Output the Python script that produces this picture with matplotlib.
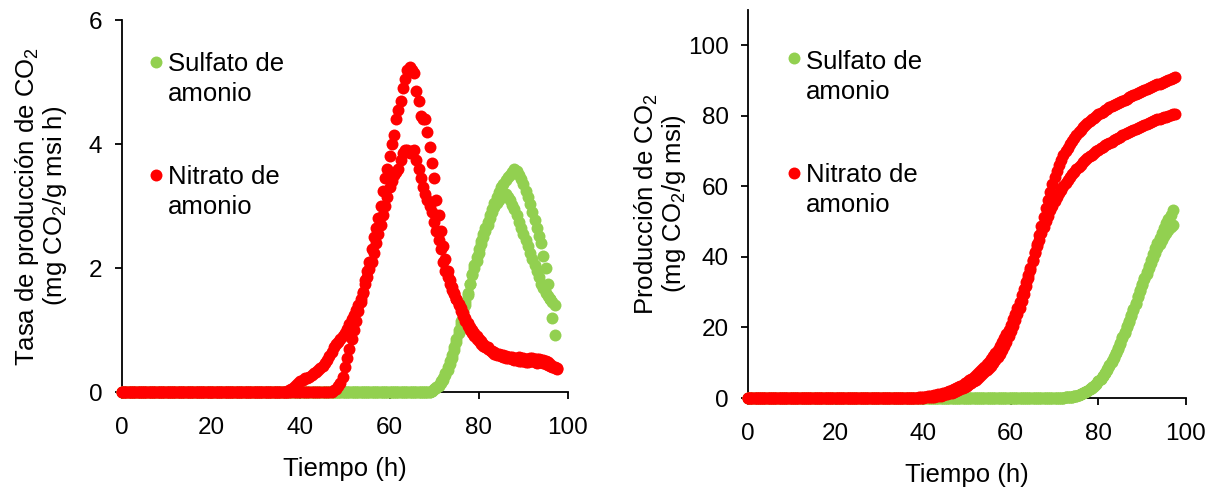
import numpy as np
import matplotlib.pyplot as plt

plt.rcParams['font.family'] = ['Liberation Sans', 'DejaVu Sans']
plt.rcParams['mathtext.fontset'] = 'custom'
plt.rcParams['mathtext.rm'] = 'Liberation Sans'
plt.rcParams['mathtext.it'] = 'Liberation Sans:italic'

# muestreo cada 0.5 h
tiempo = np.arange(0, 98, 0.5)

verde = '#92D050'
rojo = '#FF0000'

# tasa de produccion de CO2 (mg CO2/g msi h)
tasa_sulfato_1 = [0.0] * 139 + [
    0.02, 0.05, 0.07, 0.1, 0.15, 0.2, 0.27, 0.35, 0.45, 0.55,
    0.67, 0.8, 0.95, 1.1, 1.25, 1.4, 1.57, 1.75, 1.9, 2.05,
    2.18, 2.3, 2.43, 2.55, 2.65, 2.75, 2.85, 2.95, 3.05, 3.15,
    3.22, 3.3, 3.36, 3.42, 3.46, 3.5, 3.55, 3.6, 3.57, 3.5,
    3.43, 3.35, 3.25, 3.15, 3.03, 2.9, 2.78, 2.65, 2.52, 2.4,
    2.2, 2.0, 1.75, 1.5, 1.2, 0.92]
tasa_sulfato_2 = [0.0] * 139 + [
    0.02, 0.05, 0.08, 0.12, 0.17, 0.23, 0.3, 0.4, 0.5, 0.6,
    0.72, 0.85, 1.0, 1.15, 1.3, 1.45, 1.6, 1.75, 1.88, 2.0,
    2.12, 2.25, 2.38, 2.5, 2.6, 2.7, 2.8, 2.9, 2.98, 3.05,
    3.1, 3.15, 3.18, 3.2, 3.15, 3.1, 3.02, 2.95, 2.85, 2.75,
    2.65, 2.55, 2.45, 2.35, 2.25, 2.15, 2.05, 1.95, 1.85, 1.75,
    1.68, 1.6, 1.55, 1.5, 1.45, 1.4]
tasa_nitrato_1 = [0.0] * 95 + [
    0.03, 0.05, 0.1, 0.15, 0.25, 0.4, 0.55, 0.7, 0.85, 1.0,
    1.15, 1.3, 1.45, 1.6, 1.8, 1.95, 2.1, 2.3, 2.5, 2.65,
    2.8, 3.0, 3.25, 3.45, 3.6, 3.8, 4.0, 4.15, 4.4, 4.55,
    4.7, 4.9, 5.05, 5.2, 5.25, 5.2, 5.15, 4.85, 4.7, 4.45,
    4.4, 4.4, 4.2, 3.95, 3.7, 3.45, 3.1, 2.85, 2.6, 2.35,
    2.15, 1.95, 1.8, 1.7, 1.6, 1.5, 1.4, 1.3, 1.22, 1.15,
    1.07, 1.0, 0.95, 0.9, 0.86, 0.82, 0.78, 0.75, 0.72, 0.7,
    0.68, 0.66, 0.64, 0.62, 0.61, 0.6, 0.59, 0.58, 0.57, 0.56,
    0.56, 0.55, 0.55, 0.56, 0.55, 0.55, 0.54, 0.54, 0.55, 0.55,
    0.54, 0.53, 0.53, 0.52, 0.52, 0.5, 0.48, 0.45, 0.42, 0.38,
    0.37]
tasa_nitrato_2 = [0.0] * 75 + [
    0.03, 0.05, 0.08, 0.12, 0.15, 0.18, 0.2, 0.22, 0.23, 0.25,
    0.27, 0.3, 0.33, 0.35, 0.38, 0.42, 0.47, 0.52, 0.58, 0.65,
    0.72, 0.78, 0.8, 0.85, 0.9, 0.95, 1.02, 1.1, 1.18, 1.25,
    1.32, 1.4, 1.5, 1.62, 1.75, 1.85, 1.98, 2.1, 2.25, 2.4,
    2.55, 2.7, 2.85, 3.0, 3.15, 3.3, 3.4, 3.5, 3.55, 3.6,
    3.75, 3.85, 3.9, 3.9, 3.85, 3.88, 3.9, 3.75, 3.6, 3.45,
    3.3, 3.2, 3.1, 3.0, 2.9, 2.75, 2.6, 2.45, 2.3, 2.1,
    1.95, 1.85, 1.75, 1.65, 1.58, 1.5, 1.42, 1.35, 1.28, 1.2,
    1.12, 1.05, 1.0, 0.95, 0.9, 0.85, 0.82, 0.78, 0.75, 0.72,
    0.68, 0.65, 0.62, 0.6, 0.59, 0.58, 0.56, 0.55, 0.55, 0.55,
    0.53, 0.52, 0.51, 0.5, 0.5, 0.5, 0.49, 0.48, 0.5, 0.5,
    0.48, 0.47, 0.48, 0.48, 0.47, 0.45, 0.44, 0.42, 0.41, 0.4,
    0.39]

# produccion acumulada de CO2 (mg CO2/g msi)
prod_sulfato_1 = [0.0] * 144 + [
    0.1, 0.15, 0.2, 0.3, 0.4, 0.55, 0.7, 0.9, 1.1, 1.4,
    1.7, 2.1, 2.5, 3.0, 3.5, 4.1, 4.8, 5.5, 6.3, 7.2,
    8.2, 9.3, 10.4, 11.6, 12.9, 14.3, 15.7, 17.2, 18.7, 20.3,
    21.9, 23.6, 25.3, 27.0, 28.8, 30.5, 32.3, 34.0, 35.8, 37.5,
    39.2, 40.8, 42.4, 43.9, 45.4, 46.8, 48.2, 49.5, 50.8, 52.0,
    53.2]
prod_sulfato_2 = [0.0] * 144 + [
    0.1, 0.15, 0.2, 0.3, 0.4, 0.55, 0.7, 0.9, 1.1, 1.4,
    1.7, 2.1, 2.5, 2.95, 3.45, 4.05, 4.7, 5.4, 6.2, 7.1,
    8.0, 9.1, 10.2, 11.4, 12.7, 14.0, 15.4, 16.9, 18.4, 20.0,
    21.6, 23.3, 25.0, 26.7, 28.5, 30.2, 32.0, 33.6, 35.2, 36.8,
    38.3, 39.8, 41.1, 42.4, 43.6, 44.7, 45.8, 46.7, 47.6, 48.4,
    49.1]
prod_nitrato_1 = [0.0] * 80 + [
    0.1, 0.15, 0.2, 0.25, 0.3, 0.4, 0.5, 0.6, 0.7, 0.85,
    1.0, 1.15, 1.3, 1.5, 1.7, 1.95, 2.2, 2.5, 2.8, 3.15,
    3.5, 3.9, 4.3, 4.75, 5.2, 5.7, 6.2, 6.75, 7.3, 7.9,
    8.5, 9.2, 9.9, 10.75, 11.6, 12.55, 13.5, 14.7, 16.0, 17.5,
    19.0, 20.5, 22.0, 23.7, 25.5, 27.5, 29.5, 31.7, 34.0, 36.4,
    38.8, 41.3, 43.8, 46.3, 48.8, 51.3, 53.8, 56.2, 58.5, 60.6,
    62.6, 64.4, 66.0, 67.5, 68.8, 69.9, 71.0, 72.0, 72.9, 73.7,
    74.5, 75.3, 76.0, 76.7, 77.3, 77.9, 78.5, 79.0, 79.5, 80.0,
    80.4, 80.8, 81.2, 81.6, 82.0, 82.4, 82.7, 83.1, 83.4, 83.7,
    84.0, 84.3, 84.6, 84.9, 85.2, 85.5, 85.8, 86.1, 86.4, 86.7,
    87.0, 87.3, 87.5, 87.8, 88.1, 88.4, 88.6, 88.9, 89.1, 89.4,
    89.7, 90.0, 90.2, 90.5, 90.7, 90.9]
prod_nitrato_2 = [0.0] * 76 + [
    0.05, 0.1, 0.15, 0.22, 0.3, 0.37, 0.45, 0.55, 0.65, 0.77,
    0.9, 1.05, 1.2, 1.37, 1.55, 1.77, 2.0, 2.25, 2.5, 2.8,
    3.1, 3.45, 3.8, 4.2, 4.6, 5.05, 5.5, 6.0, 6.5, 7.05,
    7.6, 8.25, 8.9, 9.6, 10.3, 11.1, 11.9, 12.8, 13.7, 14.7,
    15.8, 16.9, 18.1, 19.4, 20.7, 22.3, 23.9, 25.6, 27.3, 29.1,
    31.0, 33.0, 35.0, 37.0, 39.0, 41.0, 43.0, 44.9, 46.8, 48.5,
    50.2, 51.7, 53.2, 54.5, 55.8, 57.0, 58.1, 59.1, 60.1, 61.0,
    61.9, 62.7, 63.5, 64.2, 64.9, 65.6, 66.2, 66.8, 67.4, 68.0,
    68.5, 69.0, 69.5, 70.0, 70.4, 70.8, 71.2, 71.6, 72.0, 72.4,
    72.7, 73.1, 73.4, 73.8, 74.1, 74.5, 74.8, 75.1, 75.4, 75.7,
    76.0, 76.3, 76.6, 76.9, 77.2, 77.5, 77.7, 78.0, 78.2, 78.5,
    78.7, 79.0, 79.2, 79.4, 79.6, 79.8, 80.0, 80.2, 80.4, 80.5]

etiquetas = ['Sulfato de\namonio', 'Nitrato de\namonio']
colores = [verde, rojo]


def panel(ax, sulfato, nitrato, ymax, ystep, ylabel, ypad, leyenda):
    """Dibuja un panel con las dos repeticiones de cada tratamiento."""
    for serie in sulfato:
        ax.plot(tiempo[:len(serie)], serie, 'o', color=verde, ms=8.6,
                mec='none', clip_on=False, zorder=3)
    for serie in nitrato:
        ax.plot(tiempo[:len(serie)], serie, 'o', color=rojo, ms=8.6,
                mec='none', clip_on=False, zorder=4)

    ax.set_xlim(0, 100)
    ax.set_ylim(0, ymax)
    ax.set_xticks(np.arange(0, 101, 20))
    ax.set_yticks(np.arange(0, min(ymax, 100) + 0.01, ystep))
    for s in ['top', 'right']:
        ax.spines[s].set_visible(False)
    for s in ['left', 'bottom']:
        ax.spines[s].set_linewidth(1.3)
    ax.tick_params(direction='out', length=5, width=1.3, labelsize=17.5)
    ax.tick_params(axis='x', pad=13)
    ax.tick_params(axis='y', pad=9)
    ax.set_xlabel('Tiempo (h)', fontsize=18.5, labelpad=13)
    ax.set_ylabel(ylabel, fontsize=18.5, labelpad=ypad, linespacing=1.0)

    # leyenda dibujada a mano: marcador junto a la primera linea del texto
    # (y del texto = linea base de la ultima linea)
    xm, xt, ys = leyenda
    for etiqueta, color, (ym, yb) in zip(etiquetas, colores, ys):
        ax.plot([xm], [ym], 'o', color=color, ms=8.6, mec='none',
                transform=ax.transAxes, clip_on=False)
        ax.text(xt, yb, etiqueta, transform=ax.transAxes, fontsize=18.5,
                va='baseline', ha='left', linespacing=1.3)


fig = plt.figure(figsize=(12.17, 4.88), dpi=100)
ax1 = fig.add_axes([0.1002, 0.1967, 0.3665, 0.7623])
ax2 = fig.add_axes([0.6146, 0.1844, 0.3599, 0.7951])

panel(ax1, [tasa_sulfato_1, tasa_sulfato_2], [tasa_nitrato_1, tasa_nitrato_2],
      6, 2, 'Tasa de producción de CO$_2$\n(mg CO$_2$/g msi h)', 14,
      (0.076, 0.104, [(0.888, 0.783), (0.583, 0.4785)]))
panel(ax2, [prod_sulfato_1, prod_sulfato_2], [prod_nitrato_1, prod_nitrato_2],
      110, 20, 'Producción de CO$_2$\n(mg CO$_2$/g msi)', 0,
      (0.105, 0.132, [(0.876, 0.771), (0.581, 0.480)]))

fig.savefig('out.png', dpi=100)
